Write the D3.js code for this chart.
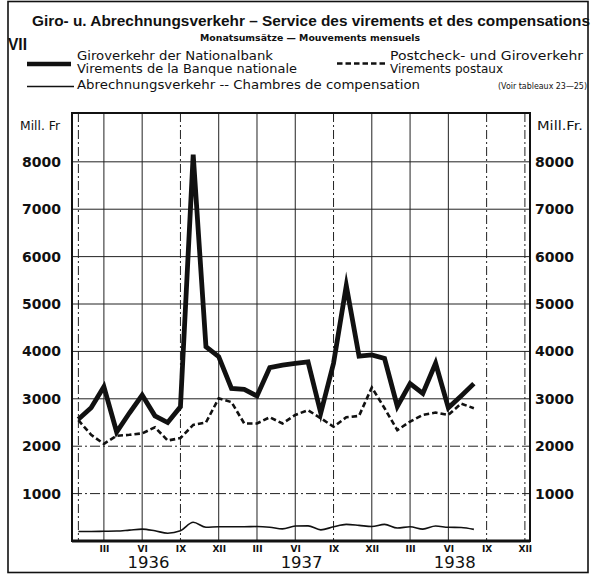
<!DOCTYPE html>
<html>
<head>
<meta charset="utf-8">
<script src="https://cdn.jsdelivr.net/npm/d3@7"></script>
<style>
  body { margin: 0; background: #fff; }
  svg { display: block; }
  text { fill: #111; }
</style>
</head>
<body>
<script>
//Giro- und Abrechnungsverkehr, monthly turnover 1936-1938

var w = 596;
var h = 574;

//months shown (Jan 1936 .. Aug 1938)
var months = ["1936-01", "1936-02", "1936-03", "1936-04", "1936-05", "1936-06",
    "1936-07", "1936-08", "1936-09", "1936-10", "1936-11", "1936-12",
    "1937-01", "1937-02", "1937-03", "1937-04", "1937-05", "1937-06",
    "1937-07", "1937-08", "1937-09", "1937-10", "1937-11", "1937-12",
    "1938-01", "1938-02", "1938-03", "1938-04", "1938-05", "1938-06",
    "1938-07", "1938-08"];

//Giroverkehr der Nationalbank (Mill. Fr)
var nationalbank = [2570, 2810, 3255, 2300, 2700, 3080, 2640, 2500, 2830, 8150,
    4100, 3890, 3220, 3200, 3060, 3660, 3710, 3750, 3780, 2700, 3750, 5390,
    3900, 3925, 3850, 2840, 3320, 3115, 3750, 2810, 3060, 3320];

//Postcheck- und Giroverkehr
var postcheck = [2550, 2240, 2050, 2220, 2240, 2270, 2400, 2120, 2170, 2450,
    2500, 3010, 2930, 2480, 2480, 2610, 2480, 2660, 2760, 2590, 2410, 2610,
    2640, 3240, 2800, 2340, 2520, 2660, 2710, 2660, 2900, 2800];

//Abrechnungsverkehr
var abrechnung = [200, 200, 205, 210, 230, 250, 215, 165, 215, 395, 290, 300,
    300, 300, 305, 290, 255, 315, 320, 235, 300, 350, 330, 305, 350, 275, 300,
    250, 315, 290, 285, 245];

//axis labels
var yTicks = [1000, 2000, 3000, 4000, 5000, 6000, 7000, 8000];
var tickMonths = [2, 5, 8, 11, 14, 17, 20, 23, 26, 29, 32, 35];
var monthLabels = ["III", "VI", "IX", "XII", "III", "VI", "IX", "XII", "III", "VI", "IX", "XII"];
var years = ["1936", "1937", "1938"];

var sans = "'DejaVu Sans', 'Liberation Sans', sans-serif";
var arial = "'Liberation Sans', Arial, sans-serif";

var svg = d3.select("body")
    .append("svg")
    .attr("width", w)
    .attr("height", h);

//plot frame
var pLeft = 72, pRight = 530, pTop = 113, pBottom = 541;

var x = d3.scaleLinear()
    .domain([-0.5, 35.4])
    .range([pLeft, pRight]);

var y = d3.scaleLinear()
    .domain([0, 9030])
    .range([pBottom, pTop]);

//outer border
svg.append("rect")
    .attr("x", 8)
    .attr("y", 1.5)
    .attr("width", 580)
    .attr("height", 571)
    .attr("fill", "none")
    .attr("stroke", "#111")
    .attr("stroke-width", 1.6);

//titles
svg.append("text")
    .attr("x", 32)
    .attr("y", 26)
    .attr("font-family", arial)
    .attr("font-weight", "bold")
    .attr("font-size", 15.5)
    .attr("textLength", 558)
    .attr("lengthAdjust", "spacingAndGlyphs")
    .text("Giro- u. Abrechnungsverkehr \u2013 Service des virements et des compensations");

svg.append("text")
    .attr("x", 200)
    .attr("y", 41)
    .attr("font-family", sans)
    .attr("font-weight", "bold")
    .attr("font-size", 8.5)
    .attr("textLength", 220)
    .attr("lengthAdjust", "spacingAndGlyphs")
    .text("Monatsums\u00e4tze \u2014 Mouvements mensuels");

svg.append("text")
    .attr("x", 8)
    .attr("y", 50)
    .attr("font-family", arial)
    .attr("font-weight", "bold")
    .attr("font-size", 16)
    .attr("textLength", 19)
    .attr("lengthAdjust", "spacingAndGlyphs")
    .text("VII");

//legend
var legendText = [
    {t: "Giroverkehr der Nationalbank", x: 77, y: 60, len: 196},
    {t: "Virements de la Banque nationale", x: 77, y: 73.3, len: 220},
    {t: "Abrechnungsverkehr -- Chambres de compensation", x: 77, y: 88.5, len: 343},
    {t: "Postcheck- und Giroverkehr", x: 390, y: 60, len: 193},
    {t: "Virements postaux", x: 390, y: 73.3, len: 113}
];

svg.selectAll(".legendText")
    .data(legendText)
    .enter()
    .append("text")
    .attr("class", "legendText")
    .attr("x", function(d) { return d.x; })
    .attr("y", function(d) { return d.y; })
    .attr("font-family", sans)
    .attr("font-size", 11.5)
    .attr("textLength", function(d) { return d.len; })
    .attr("lengthAdjust", "spacingAndGlyphs")
    .text(function(d) { return d.t; });

svg.append("text")
    .attr("x", 498)
    .attr("y", 89)
    .attr("font-family", sans)
    .attr("font-size", 8.5)
    .attr("textLength", 89)
    .attr("lengthAdjust", "spacingAndGlyphs")
    .text("(Voir tableaux 23\u201425)");

svg.append("line")
    .attr("x1", 27).attr("x2", 71)
    .attr("y1", 64).attr("y2", 64)
    .attr("stroke", "#111")
    .attr("stroke-width", 4.5);

svg.append("line")
    .attr("x1", 337).attr("x2", 387)
    .attr("y1", 63.5).attr("y2", 63.5)
    .attr("stroke", "#111")
    .attr("stroke-width", 2.6)
    .attr("stroke-dasharray", "5.5,3");

svg.append("line")
    .attr("x1", 27).attr("x2", 74)
    .attr("y1", 86.5).attr("y2", 86.5)
    .attr("stroke", "#111")
    .attr("stroke-width", 1.5);

//grid
var gridV = [0].concat(tickMonths);
var dashedV = [0, 8, 20, 32, 35];

svg.selectAll(".gridV")
    .data(gridV)
    .enter()
    .append("line")
    .attr("class", "gridV")
    .attr("x1", function(d) { return x(d); })
    .attr("x2", function(d) { return x(d); })
    .attr("y1", pTop)
    .attr("y2", pBottom)
    .attr("stroke", "#222")
    .attr("stroke-width", 1)
    .attr("stroke-dasharray", function(d) {
        return dashedV.indexOf(d) >= 0 ? "9,3,2,3" : null;
    });

svg.selectAll(".gridH")
    .data(yTicks)
    .enter()
    .append("line")
    .attr("class", "gridH")
    .attr("x1", pLeft)
    .attr("x2", pRight)
    .attr("y1", function(d) { return y(d); })
    .attr("y2", function(d) { return y(d); })
    .attr("stroke", "#222")
    .attr("stroke-width", 1)
    .attr("stroke-dasharray", function(d) {
        return d <= 2000 ? "10,3,2,3" : null;
    });

//frame
svg.append("rect")
    .attr("x", pLeft)
    .attr("y", pTop)
    .attr("width", pRight - pLeft)
    .attr("height", pBottom - pTop)
    .attr("fill", "none")
    .attr("stroke", "#111")
    .attr("stroke-width", 2);

svg.append("line")
    .attr("x1", pLeft).attr("x2", pRight)
    .attr("y1", pBottom).attr("y2", pBottom)
    .attr("stroke", "#111")
    .attr("stroke-width", 2.8);

//axes
var styleAxis = function(g, size, weight) {
    g.select(".domain").remove();
    g.selectAll("text")
        .attr("font-family", sans)
        .attr("font-size", size)
        .attr("font-weight", weight)
        .attr("fill", "#111");
};

svg.append("g")
    .attr("transform", "translate(61,0)")
    .call(d3.axisLeft(y).tickValues(yTicks).tickSize(0).tickPadding(0).tickFormat(d3.format("d")))
    .call(styleAxis, 14, "bold");

svg.append("g")
    .attr("transform", "translate(535,0)")
    .call(d3.axisRight(y).tickValues(yTicks).tickSize(0).tickPadding(0).tickFormat(d3.format("d")))
    .call(styleAxis, 14, "bold");

svg.append("g")
    .attr("transform", "translate(0," + (pBottom + 1) + ")")
    .call(d3.axisBottom(x).tickValues(tickMonths).tickSize(0).tickPadding(4)
        .tickFormat(function(d, i) { return monthLabels[i]; }))
    .call(styleAxis, 9, "bold");

svg.selectAll(".year")
    .data(years)
    .enter()
    .append("text")
    .attr("class", "year")
    .attr("x", function(d, i) { return x(i * 12 + 5.5); })
    .attr("y", 568)
    .attr("text-anchor", "middle")
    .attr("font-family", sans)
    .attr("font-size", 16.5)
    .text(function(d) { return d; });

svg.append("text")
    .attr("x", 20)
    .attr("y", 130)
    .attr("font-family", sans)
    .attr("font-size", 12)
    .attr("textLength", 40)
    .attr("lengthAdjust", "spacingAndGlyphs")
    .text("Mill. Fr");

svg.append("text")
    .attr("x", 537)
    .attr("y", 130)
    .attr("font-family", sans)
    .attr("font-size", 12)
    .attr("textLength", 46)
    .attr("lengthAdjust", "spacingAndGlyphs")
    .text("Mill.Fr.");

//series
var line = d3.line()
    .x(function(d, i) { return x(i); })
    .y(function(d) { return y(d); });

var smooth = d3.line()
    .x(function(d, i) { return x(i); })
    .y(function(d) { return y(d); })
    .curve(d3.curveMonotoneX);

svg.append("path")
    .datum(abrechnung)
    .attr("d", smooth)
    .attr("fill", "none")
    .attr("stroke", "#111")
    .attr("stroke-width", 1.6);

svg.append("path")
    .datum(postcheck)
    .attr("d", line)
    .attr("fill", "none")
    .attr("stroke", "#111")
    .attr("stroke-width", 2.6)
    .attr("stroke-dasharray", "5.5,3");

svg.append("path")
    .datum(nationalbank)
    .attr("d", line)
    .attr("fill", "none")
    .attr("stroke", "#111")
    .attr("stroke-width", 4.8)
    .attr("stroke-linejoin", "miter")
    .attr("stroke-miterlimit", 6);
</script>
</body>
</html>
